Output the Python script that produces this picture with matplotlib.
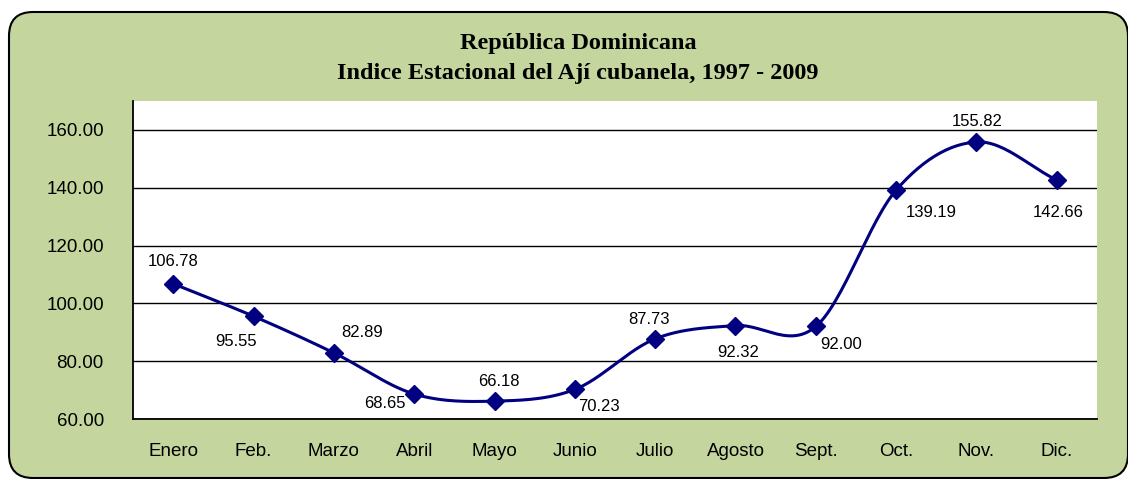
import numpy as np
import matplotlib
matplotlib.use("Agg")
import matplotlib.pyplot as plt
from matplotlib.patches import FancyBboxPatch
from matplotlib.transforms import IdentityTransform

meses = ['Enero', 'Feb.', 'Marzo', 'Abril', 'Mayo', 'Junio', 'Julio',
         'Agosto', 'Sept.', 'Oct.', 'Nov.', 'Dic.']
indice = [106.78, 95.55, 82.89, 68.65, 66.18, 70.23, 87.73,
          92.32, 92.00, 139.19, 155.82, 142.66]
# offsets (px) de las etiquetas respecto al marcador
offs = [(0, 22), (-17, -25), (28, 20), (-29, -10), (4, 20), (24, -17),
        (-6, 19), (3, -27), (25, -18), (35, -22), (1, 20), (1, -32)]

def catmull_rom(x, y, n=30):
    x = np.asarray(x, float)
    y = np.asarray(y, float)
    px = np.concatenate([[2 * x[0] - x[1]], x, [2 * x[-1] - x[-2]]])
    py = np.concatenate([[2 * y[0] - y[1]], y, [2 * y[-1] - y[-2]]])
    xs, ys = [], []
    t = np.linspace(0, 1, n)
    for i in range(1, len(px) - 2):
        for p, out in ((px, xs), (py, ys)):
            p0, p1, p2, p3 = p[i - 1], p[i], p[i + 1], p[i + 2]
            out.extend(0.5 * ((2 * p1) + (-p0 + p2) * t
                              + (2 * p0 - 5 * p1 + 4 * p2 - p3) * t ** 2
                              + (-p0 + 3 * p1 - 3 * p2 + p3) * t ** 3))
    return np.array(xs), np.array(ys)

fig = plt.figure(figsize=(11.28, 4.79), dpi=100)
fig.patch.set_facecolor('white')

marco = FancyBboxPatch((9, 1), 1119, 466,
                       boxstyle="round,pad=0,rounding_size=24",
                       transform=IdentityTransform(),
                       facecolor='#c4d69e', edgecolor='black', linewidth=1.5,
                       zorder=-5)
fig.patches.append(marco)

ax = fig.add_axes([133 / 1128, 60 / 479, 964 / 1128, 318 / 479])
ax.set_zorder(2)
ax.set_facecolor('white')

x = np.arange(len(meses))
sx, sy = catmull_rom(x, indice)
ax.plot(sx, sy, color='#000080', linewidth=2.2, zorder=3)
ax.plot(x, indice, linestyle='none', marker='D', markersize=9,
        color='#000080', zorder=4)

for i, v in enumerate(indice):
    dx, dy = offs[i]
    ax.annotate(f'{v:.2f}', (x[i], v), xytext=(dx * 0.72, dy * 0.72),
                textcoords='offset points', ha='center', va='center',
                fontsize=12, family='Liberation Sans', color='black')

ax.set_xlim(-0.5, len(meses) - 0.5)
ax.set_ylim(60, 170)
ax.set_yticks(np.arange(60, 161, 20))
ax.set_yticklabels([f'{v:.2f}' for v in np.arange(60, 161, 20)])
ax.set_xticks(x)
ax.set_xticklabels(meses)
ax.yaxis.grid(True, color='black', linewidth=1.0)
ax.set_axisbelow(True)
for s in ['top', 'right']:
    ax.spines[s].set_visible(False)
ax.spines['left'].set_linewidth(1.3)
ax.spines['bottom'].set_linewidth(1.3)
ax.tick_params(axis='both', length=0, labelsize=13.5)
ax.tick_params(axis='x', pad=17)
ax.tick_params(axis='y', pad=21)
for lab in ax.get_xticklabels() + ax.get_yticklabels():
    lab.set_family('Liberation Sans')

fig.text(578 / 1128, 1 - 43 / 479, 'República Dominicana',
         ha='center', va='center', fontsize=17.5, fontweight='bold',
         family='Liberation Serif')
fig.text(578 / 1128, 1 - 73 / 479, 'Indice Estacional del Ají cubanela, 1997 - 2009',
         ha='center', va='center', fontsize=17.5, fontweight='bold',
         family='Liberation Serif')

fig.savefig('out.png', dpi=100)
